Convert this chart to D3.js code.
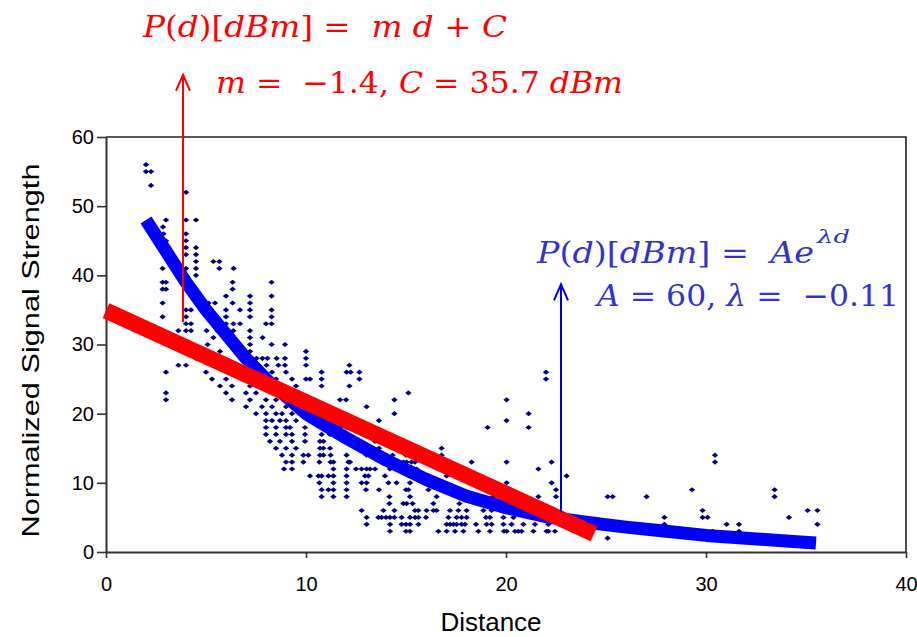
<!DOCTYPE html>
<html>
<head>
<meta charset="utf-8">
<script src="https://cdn.jsdelivr.net/npm/d3@7"></script>
<style>
  body { margin: 0; background: #fff; }
  svg { display: block; }
</style>
</head>
<body>
<svg id="chart" width="917" height="637"></svg>
<script>
const xTicks = [0, 10, 20, 30, 40]
const yTicks = [0, 10, 20, 30, 40, 50, 60]

// measurements, one row per signal level: [signal, [distances...]]
const scatterRows = [
  [56, [2.0]],
  [55, [2.0, 2.25]],
  [53, [2.25]],
  [52, [4.0]],
  [48, [3.0, 4.0, 4.5]],
  [47, [2.85]],
  [46, [2.87, 4.0]],
  [45, [3.0, 4.0]],
  [44, [4.0, 4.5]],
  [43, [4.0, 4.5]],
  [42, [4.5, 5.37, 5.67]],
  [41, [2.83, 4.0, 4.5, 5.67, 6.38]],
  [40, [4.5]],
  [39, [2.83, 3.0, 6.33, 8.28]],
  [38, [2.83, 3.0, 4.5, 6.33]],
  [37, [6.0, 7.2, 8.28]],
  [36, [2.83, 5.12, 5.45, 6.33, 7.2]],
  [35, [4.0, 4.25, 6.0, 6.7, 7.2, 8.28]],
  [34, [2.83, 4.0, 6.0, 7.2, 8.28]],
  [33, [4.0, 4.25, 5.58, 6.0, 6.37, 6.7, 8.0, 8.28]],
  [32, [3.62, 4.0, 4.25, 5.03, 5.58, 6.37, 7.2]],
  [31, [5.37, 7.2, 7.83]],
  [30, [5.08, 7.2, 8.28, 8.95]],
  [29, [4.37, 5.7, 7.2, 10.0]],
  [28, [4.5, 7.53, 7.82, 8.07, 8.53, 8.95, 10.0]],
  [27, [3.62, 4.0, 8.03, 8.62, 8.95, 10.0, 12.17]],
  [26, [3.0, 5.0, 6.7, 7.5, 8.3, 9.0, 10.78, 12.03, 12.23, 12.67, 22.0]],
  [25, [5.3, 6.0, 7.0, 7.8, 8.5, 9.3, 10.0, 10.2, 10.78, 12.67, 22.0]],
  [24, [5.7, 6.3, 7.2, 8.0, 8.7, 9.5, 10.78, 12.17]],
  [23, [3.0, 6.0, 7.0, 7.5, 8.3, 9.0, 15.12]],
  [22, [3.0, 6.3, 7.2, 8.0, 8.5, 9.3, 11.7, 12.0, 14.42, 20.03]],
  [21, [7.0, 7.8, 8.3, 9.0, 9.5, 13.03]],
  [20, [7.5, 8.0, 8.5, 8.8, 9.3, 14.42, 21.13]],
  [19, [8.0, 8.3, 8.7, 9.0, 9.5, 11.28, 13.65, 20.03]],
  [18, [8.0, 8.5, 9.0, 9.2, 9.95, 11.7, 12.03, 19.08, 21.13]],
  [17, [8.0, 8.5, 9.0, 9.3, 9.95, 10.78, 11.2, 12.12]],
  [16, [8.2, 8.7, 9.3, 9.95, 10.7, 10.87, 13.45, 13.65]],
  [15, [8.5, 9.0, 9.5, 10.7, 10.87, 11.2, 13.17, 13.65, 16.78]],
  [14, [8.8, 9.3, 9.87, 10.12, 10.7, 10.87, 11.23, 12.03, 13.03, 14.03, 14.33, 15.0, 16.78, 30.45]],
  [13, [9.0, 9.3, 9.87, 10.67, 11.23, 11.37, 12.12, 12.2, 14.87, 15.03, 15.28, 15.45, 18.28, 20.03, 22.28, 30.45]],
  [12, [8.9, 9.3, 11.37, 12.03, 12.5, 12.78, 13.03, 13.2, 13.45, 14.2, 15.12, 15.53, 21.62]],
  [11, [10.2, 10.62, 10.78, 11.12, 11.37, 12.03, 12.95, 13.12, 13.95, 15.2, 16.12, 17.03, 23.03]],
  [10, [10.67, 11.37, 12.03, 12.78, 13.03, 14.12, 14.53, 15.2, 20.03, 22.28]],
  [9, [10.78, 11.12, 11.37, 12.03, 13.0, 13.65, 15.0, 15.12, 16.12, 17.53, 22.5, 29.3, 33.43]],
  [8, [10.78, 11.37, 12.03, 14.17, 15.2, 16.53, 19.37, 21.62, 22.5, 25.08, 25.33, 27.03, 33.43]],
  [7, [14.17, 14.87, 15.03, 15.33, 16.37, 17.67]],
  [6, [12.78, 13.87, 14.42, 15.45, 15.62, 16.03, 16.37, 16.53, 17.2, 17.62, 18.03, 18.87, 19.28, 20.53, 29.83, 35.08, 35.57]],
  [5, [13.03, 13.62, 13.78, 14.0, 14.2, 14.42, 14.78, 15.2, 15.45, 15.62, 16.0, 17.12, 17.53, 17.78, 18.03, 19.0, 19.2, 19.87, 20.37, 27.92, 29.83, 30.08, 34.15]],
  [4, [13.03, 14.2, 14.78, 15.0, 15.2, 15.62, 17.03, 17.2, 17.37, 17.53, 17.78, 17.95, 18.5, 19.03, 19.28, 19.87, 20.28, 20.87, 21.45, 22.12, 27.92, 31.03, 31.65, 35.57]],
  [3, [14.2, 15.0, 15.2, 16.62, 17.03, 17.45, 17.87, 18.62, 19.2, 19.9, 20.03, 20.45, 20.62, 20.78, 21.37, 22.03, 22.12, 22.45, 30.33, 31.65]],
  [2, [25.08]]
]

// red linear fit, end points as drawn
const linearFitD = [0, 24.4]
const linearFitV = [34.9, 2.6]

// blue exponential fit
const expFitD = [2, 3, 4, 5, 6, 7, 8, 9, 10, 12, 14, 16, 18, 20, 22, 24, 26, 28, 30, 32, 34, 35.5]
const expFitV = [48, 43.5, 39, 35, 31.5, 28, 25, 22.5, 20, 16.5, 13.3, 10.5, 8.1, 6.4, 5.1, 4.3, 3.6, 3.0, 2.4, 2.0, 1.6, 1.3]

// arrows: [distance, from signal, to signal]
const redArrow = [3.85, 33.2, 69]
const blueArrow = [22.75, 5.8, 38.7]

const redEquation = ["P(d)[dBm] =  m d + C", "m =  \u22121.4, C = 35.7 dBm"]
const blueEquation = ["P(d)[dBm] =  Ae", "\u03bbd", "A = 60, \u03bb =  \u22120.11"]

const width = 917, height = 637
const margin = { left: 106, right: 11, top: 137, bottom: 85 }

const svg = d3.select("#chart")

const x = d3.scaleLinear().domain([0, 40]).range([margin.left, width - margin.right])
const y = d3.scaleLinear().domain([0, 60]).range([height - margin.bottom, margin.top])

const points = scatterRows.flatMap(([v, ds]) => ds.map(d => ({ d, v })))

// frame (top and right)
svg.append("path")
  .attr("d", `M${x(0)},${y(60)}H${x(40)}V${y(0)}`)
  .attr("fill", "none")
  .attr("stroke", "#222")
  .attr("stroke-width", 1.6)

// axes
const xAxis = svg.append("g")
  .attr("transform", `translate(0,${y(0)})`)
  .call(d3.axisBottom(x).tickValues(xTicks).tickSize(6).tickPadding(19).tickSizeOuter(0))
const yAxis = svg.append("g")
  .attr("transform", `translate(${x(0)},0)`)
  .call(d3.axisLeft(y).tickValues(yTicks).tickSize(9).tickPadding(3).tickSizeOuter(0))

for (const g of [xAxis, yAxis]) {
  g.select(".domain").attr("stroke", "#333").attr("stroke-width", 2)
  g.selectAll(".tick line").attr("stroke", "#333").attr("stroke-width", 1.6)
  g.selectAll("text")
    .attr("fill", "#000")
    .style("font-family", "'Liberation Sans', Arial, sans-serif")
    .style("font-size", "20px")
}

svg.append("text")
  .attr("x", 491).attr("y", 631)
  .attr("text-anchor", "middle")
  .style("font-family", "'Liberation Sans', Arial, sans-serif")
  .style("font-size", "26px")
  .text("Distance")

svg.append("text")
  .attr("transform", `translate(39,${(y(0) + y(60)) / 2 + 6}) rotate(-90)`)
  .attr("text-anchor", "middle")
  .attr("textLength", 374)
  .attr("lengthAdjust", "spacingAndGlyphs")
  .style("font-family", "'Liberation Sans', Arial, sans-serif")
  .style("font-size", "24px")
  .text("Normalized Signal Strength")

// scatter
const diamond = "M-3.2,0L0,-2.6L3.2,0L0,2.6Z"
svg.append("g")
  .selectAll("path")
  .data(points)
  .join("path")
  .attr("d", diamond)
  .attr("transform", p => `translate(${x(p.d)},${y(p.v)})`)
  .attr("fill", "#000080")

// fits
const line = d3.line().x(p => x(p[0])).y(p => y(p[1]))

svg.append("path")
  .attr("d", line(d3.zip(expFitD, expFitV)))
  .attr("fill", "none")
  .attr("stroke", "#0000ff")
  .attr("stroke-width", 13)
  .attr("stroke-linejoin", "round")

svg.append("path")
  .attr("d", line(d3.zip(linearFitD, linearFitV)))
  .attr("fill", "none")
  .attr("stroke", "#ff0000")
  .attr("stroke-width", 16)

// arrows
function arrow(a, color) {
  const ax = x(a[0]), y0 = y(a[1]), y1 = y(a[2])
  svg.append("path")
    .attr("d", `M${ax},${y0}V${y1}M${ax - 7},${y1 + 16}L${ax},${y1}L${ax + 7},${y1 + 16}`)
    .attr("fill", "none")
    .attr("stroke", color)
    .attr("stroke-width", 2)
}
arrow(redArrow, "#ff0000")
arrow(blueArrow, "#0000cc")

// equations, letters in italic
function mathText(str, px, py, size, len, color) {
  const t = svg.append("text")
    .attr("x", px).attr("y", py)
    .attr("textLength", len)
    .attr("lengthAdjust", "spacingAndGlyphs")
    .attr("fill", color)
    .style("font-family", "'DejaVu Serif', 'Liberation Serif', serif")
    .style("font-size", size + "px")
    .attr("xml:space", "preserve")
  const runs = str.match(/[A-Za-z\u03bb]+|[^A-Za-z\u03bb]+/g)
  runs.forEach(r => {
    t.append("tspan")
      .style("font-style", /[A-Za-z\u03bb]/.test(r) ? "italic" : "normal")
      .text(r)
  })
}

mathText(redEquation[0], 143, 37, 30, 364, "#ff0000")
mathText(redEquation[1], 216, 93, 30, 407, "#ff0000")
mathText(blueEquation[0], 537, 263, 30, 277, "#3333cc")
mathText(blueEquation[1], 817, 243, 19, 33, "#3333cc")
mathText(blueEquation[2], 597, 306, 30, 302, "#3333cc")
</script>
</body>
</html>
